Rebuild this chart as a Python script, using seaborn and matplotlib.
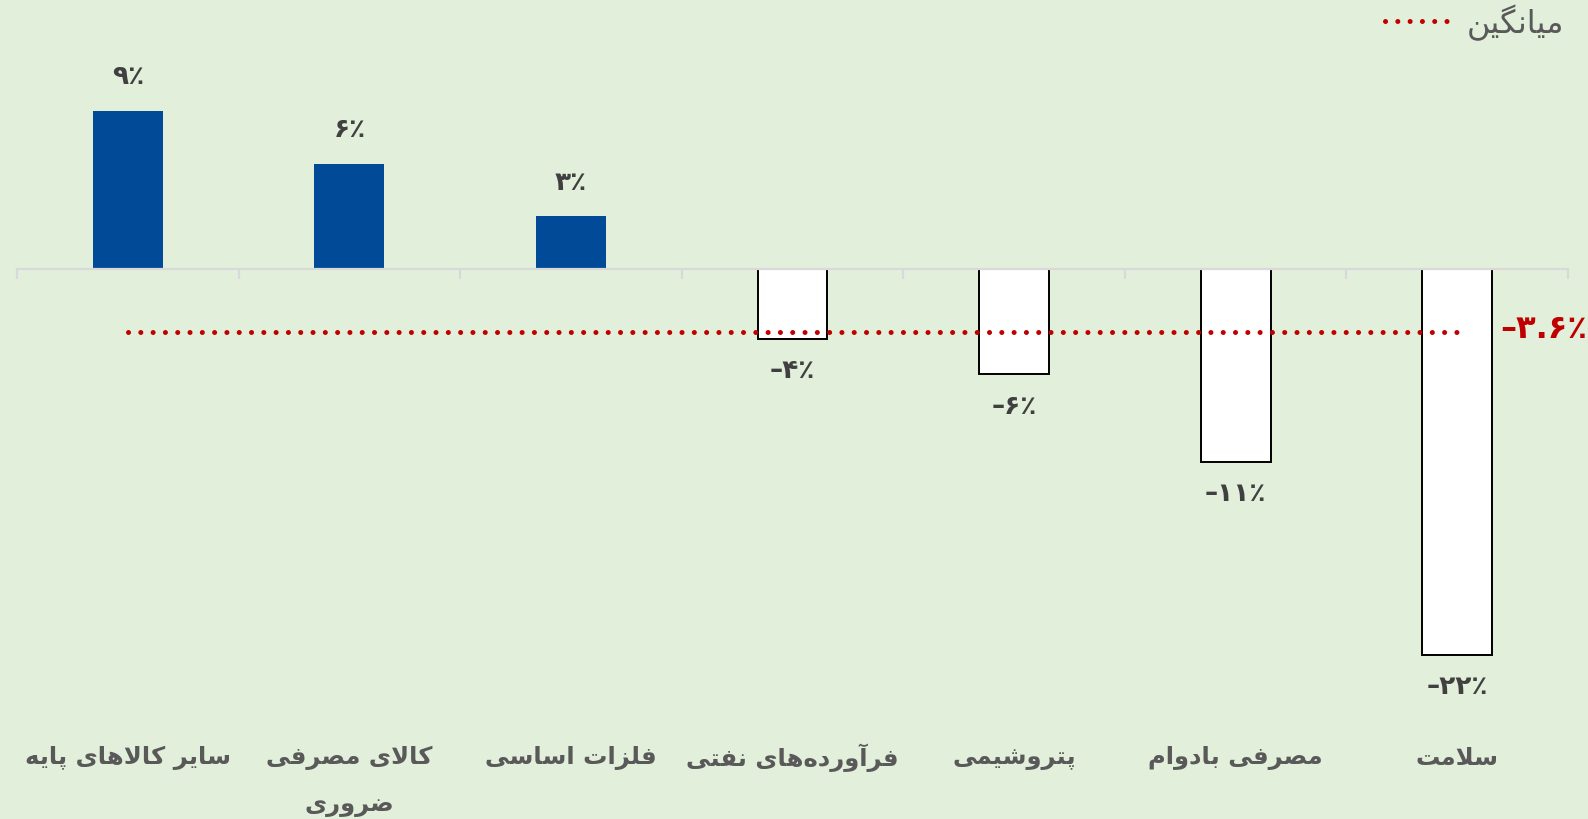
import numpy as np
import pandas as pd
import matplotlib
matplotlib.use("Agg")
import matplotlib.pyplot as plt
import matplotlib.transforms as mtransforms
from matplotlib.lines import Line2D
import seaborn as sns

# ---- data -------------------------------------------------------------
categories = ["سایر کالاهای پایه", "کالای مصرفی\nضروری", "فلزات اساسی",
              "فرآورده‌های نفتی", "پتروشیمی", "مصرفی بادوام", "سلامت"]
values = [9, 6, 3, -4, -6, -11, -22]
average = -3.6
legend_label = "میانگین"

# ---- colours ----------------------------------------------------------
BG = "#E2EFDA"
BLUE = "#004A98"
RED = "#C00000"
AXIS = "#D9D9D9"
LABEL = "#595959"
VALUE = "#404040"

# ---- Persian shaping (presentation forms + right-to-left order) -------
FORMS = {
    'ا': ('\uFE8D', '\uFE8E', None, None),
    'آ': ('\uFE81', '\uFE82', None, None),
    'ب': ('\uFE8F', '\uFE90', '\uFE91', '\uFE92'),
    'پ': ('\uFB56', '\uFB57', '\uFB58', '\uFB59'),
    'ت': ('\uFE95', '\uFE96', '\uFE97', '\uFE98'),
    'د': ('\uFEA9', '\uFEAA', None, None),
    'ر': ('\uFEAD', '\uFEAE', None, None),
    'ز': ('\uFEAF', '\uFEB0', None, None),
    'س': ('\uFEB1', '\uFEB2', '\uFEB3', '\uFEB4'),
    'ش': ('\uFEB5', '\uFEB6', '\uFEB7', '\uFEB8'),
    'ص': ('\uFEB9', '\uFEBA', '\uFEBB', '\uFEBC'),
    'ض': ('\uFEBD', '\uFEBE', '\uFEBF', '\uFEC0'),
    'ف': ('\uFED1', '\uFED2', '\uFED3', '\uFED4'),
    'ک': ('\uFB8E', '\uFB8F', '\uFB90', '\uFB91'),
    'گ': ('\uFB92', '\uFB93', '\uFB94', '\uFB95'),
    'ل': ('\uFEDD', '\uFEDE', '\uFEDF', '\uFEE0'),
    'م': ('\uFEE1', '\uFEE2', '\uFEE3', '\uFEE4'),
    'ن': ('\uFEE5', '\uFEE6', '\uFEE7', '\uFEE8'),
    'ه': ('\uFEE9', '\uFEEA', '\uFEEB', '\uFEEC'),
    'و': ('\uFEED', '\uFEEE', None, None),
    'ی': ('\uFBFC', '\uFBFD', '\uFBFE', '\uFBFF'),
}
LAM_ALEF = {'ا': ('\uFEFB', '\uFEFC'), 'آ': ('\uFEF5', '\uFEF6')}


def _dual(c):
    return c in FORMS and FORMS[c][2] is not None


def shape_line(text):
    chars = list(text)
    out = []
    prev_joins = False
    i = 0
    while i < len(chars):
        c = chars[i]
        if c not in FORMS:
            if c != '\u200c':
                out.append(c)
            prev_joins = False
            i += 1
            continue
        if c == 'ل' and i + 1 < len(chars) and chars[i + 1] in LAM_ALEF:
            iso, fin = LAM_ALEF[chars[i + 1]]
            out.append(fin if prev_joins else iso)
            prev_joins = False
            i += 2
            continue
        nxt = chars[i + 1] if i + 1 < len(chars) else None
        next_joins = _dual(c) and nxt in FORMS
        iso, fin, ini, med = FORMS[c]
        if prev_joins and next_joins:
            g = med
        elif prev_joins:
            g = fin
        elif next_joins:
            g = ini
        else:
            g = iso
        out.append(g)
        prev_joins = _dual(c)
        i += 1
    return ''.join(reversed(out))


FA_DIGITS = str.maketrans("0123456789", "۰۱۲۳۴۵۶۷۸۹")


def fa_percent(v):
    num = f"{abs(v):g}".translate(FA_DIGITS)
    return ("–" if v < 0 else "") + num + "٪"


# ---- figure -----------------------------------------------------------
sns.set_style("white", {"axes.facecolor": BG, "figure.facecolor": BG,
                        "xtick.bottom": True})
plt.rcParams["font.family"] = ["DejaVu Sans"]

W, H, DPI = 1588, 820, 100
fig = plt.figure(figsize=(W / DPI, H / DPI), dpi=DPI, facecolor=BG)

ppu = 17.55          # pixels per percentage point
zero_px = 270
y_top, y_bot = 12, -25
ax_top_px = zero_px - y_top * ppu
ax_bot_px = zero_px - y_bot * ppu
left_px, right_px = 17, 1568
ax = fig.add_axes([left_px / W, 1 - ax_bot_px / H,
                   (right_px - left_px) / W, (ax_bot_px - ax_top_px) / H])
ax.set_facecolor(BG)

df = pd.DataFrame({
    "category": categories,
    "value": values,
    "sign": ["pos" if v > 0 else "neg" for v in values],
})
sns.barplot(data=df, x="category", y="value", hue="sign", order=categories,
            palette={"pos": BLUE, "neg": "white"}, dodge=False, width=0.315,
            legend=False, saturation=1, ax=ax)

for p in ax.patches:
    if p.get_height() < 0:
        p.set_edgecolor("black")
        p.set_linewidth(1.4)
    else:
        p.set_edgecolor("none")
    p.set_zorder(3)

# value labels
for i, v in enumerate(values):
    ax.annotate(fa_percent(v), xy=(i, v),
                xytext=(0, 25 if v > 0 else -22.5), textcoords="offset points",
                ha="center", va="center", fontsize=19, fontweight="bold",
                color=VALUE, zorder=6)

# average line across the categories
n = len(categories)
DOTS = (0, (0.01, 2.45))
ax.plot([0, n - 1], [average, average], color=RED, lw=3.6,
        linestyle=DOTS, dash_capstyle="round", zorder=5)
ax.annotate(fa_percent(average), xy=(n - 1, average), xytext=(31, 3),
            textcoords="offset points", ha="left", va="center",
            fontsize=23, fontweight="bold", color=RED, zorder=6)

# axes styling
ax.set_xlim(-0.5, n - 0.5)
ax.set_ylim(y_bot, y_top)
for s in ["left", "right", "top"]:
    ax.spines[s].set_visible(False)
ax.spines["bottom"].set_position(("data", 0))
ax.spines["bottom"].set_color(AXIS)
ax.spines["bottom"].set_linewidth(1.6)
ax.spines["bottom"].set_zorder(4)
ax.set_xticks(np.arange(-0.5, n, 1.0))
ax.set_xticklabels([])
ax.set_yticks([])
ax.tick_params(axis="x", bottom=True, direction="out", length=7.5, width=1.6,
               color=AXIS)
ax.set_xlabel("")
ax.set_ylabel("")

# category labels along the bottom
trans = mtransforms.blended_transform_factory(ax.transData, fig.transFigure)
for i, cat in enumerate(categories):
    for j, line in enumerate(cat.split("\n")):
        ax.text(i, 1 - (758 + 47 * j) / H, shape_line(line), transform=trans,
                ha="center", va="center", fontsize=17.5, fontweight="bold",
                color=LABEL)

# legend
handle = Line2D([], [], color=RED, lw=3.6, linestyle=DOTS,
                dash_capstyle="round")
fig.legend([handle], [shape_line(legend_label)], loc="upper right",
           bbox_to_anchor=(0.988, 1.0), frameon=False, fontsize=23,
           borderpad=0.15, borderaxespad=0.0,
           handlelength=2.1, handletextpad=0.45, labelcolor=LABEL)

fig.savefig("out.png", dpi=DPI, facecolor=BG)
